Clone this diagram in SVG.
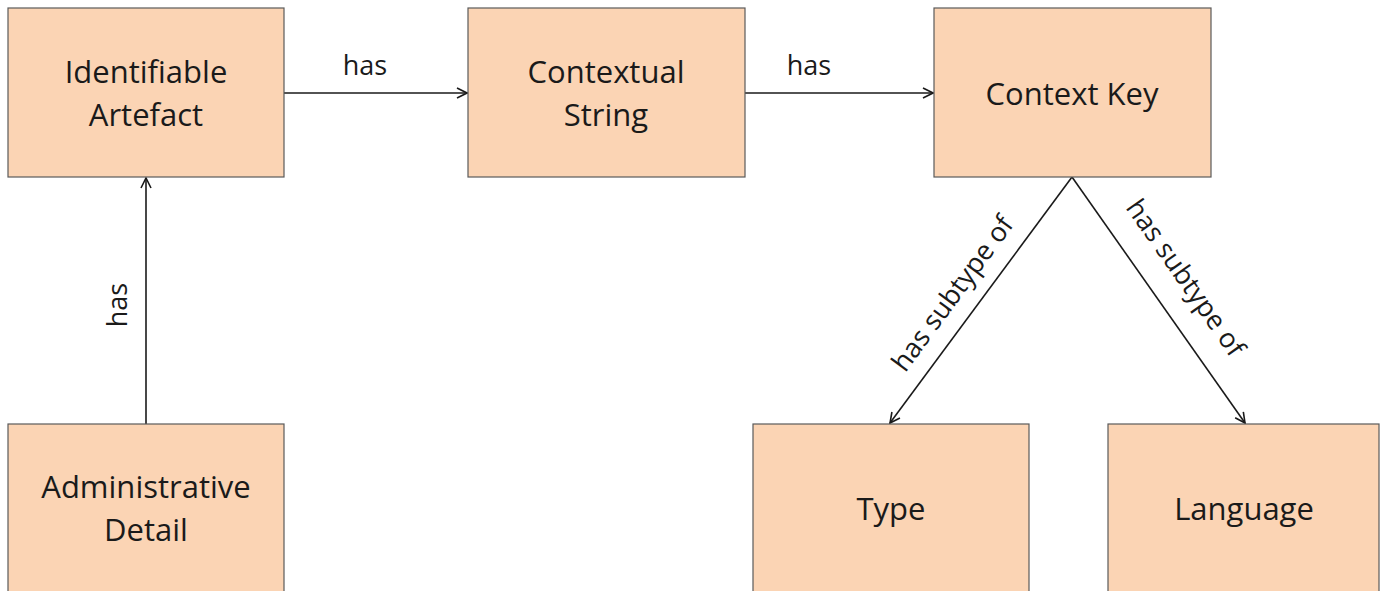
<svg xmlns="http://www.w3.org/2000/svg" width="1380" height="591" viewBox="0 0 1380 591">
<style>
.box{fill:#FBD4B4;stroke:#5a5a5a;stroke-width:1.2}
.t{font-family:"Open Sans","Noto Sans",sans-serif;font-size:31px;fill:#1a1a1a;text-anchor:middle}
.l{font-family:"Open Sans","Noto Sans",sans-serif;font-size:27px;fill:#1a1a1a;text-anchor:middle}
.c{stroke:#1a1a1a;stroke-width:1.6;fill:none}
</style>
<defs>
<marker id="arr" viewBox="0 0 12 12" refX="11" refY="6" markerWidth="12" markerHeight="12" markerUnits="userSpaceOnUse" orient="auto">
<path d="M1,1 L11,6 L1,11" fill="none" stroke="#1a1a1a" stroke-width="1.6"/>
</marker>
</defs>
<rect width="1380" height="591" fill="#ffffff"/>
<g id="connectors">
<line class="c" x1="284" y1="93" x2="467" y2="93" marker-end="url(#arr)"/>
<line class="c" x1="745" y1="93" x2="933" y2="93" marker-end="url(#arr)"/>
<line class="c" x1="146" y1="424" x2="146" y2="178" marker-end="url(#arr)"/>
<line class="c" x1="1072" y1="177" x2="890" y2="423" marker-end="url(#arr)"/>
<line class="c" x1="1072" y1="177" x2="1245" y2="423" marker-end="url(#arr)"/>
<text class="l" x="365" y="75">has</text>
<text class="l" x="809" y="75">has</text>
<text class="l" transform="translate(127,305) rotate(-90)">has</text>
<text class="l" transform="translate(960,299) rotate(-53.6)">has subtype of</text>
<text class="l" transform="translate(1178,283) rotate(55)">has subtype of</text>
</g>
<g id="identifiable-artefact">
<rect class="box" x="8" y="8" width="276" height="169"/>
<text class="t" x="146" y="83">Identifiable</text>
<text class="t" x="146" y="126">Artefact</text>
</g>
<g id="contextual-string">
<rect class="box" x="468" y="8" width="277" height="169"/>
<text class="t" x="606" y="83">Contextual</text>
<text class="t" x="606" y="126">String</text>
</g>
<g id="context-key">
<rect class="box" x="934" y="8" width="277" height="169"/>
<text class="t" x="1072" y="105">Context Key</text>
</g>
<g id="administrative-detail">
<rect class="box" x="8" y="424" width="276" height="175"/>
<text class="t" x="146" y="498">Administrative</text>
<text class="t" x="146" y="541">Detail</text>
</g>
<g id="type">
<rect class="box" x="753" y="424" width="276" height="175"/>
<text class="t" x="891" y="520">Type</text>
</g>
<g id="language">
<rect class="box" x="1108" y="424" width="271" height="175"/>
<text class="t" x="1244" y="520">Language</text>
</g>
</svg>
